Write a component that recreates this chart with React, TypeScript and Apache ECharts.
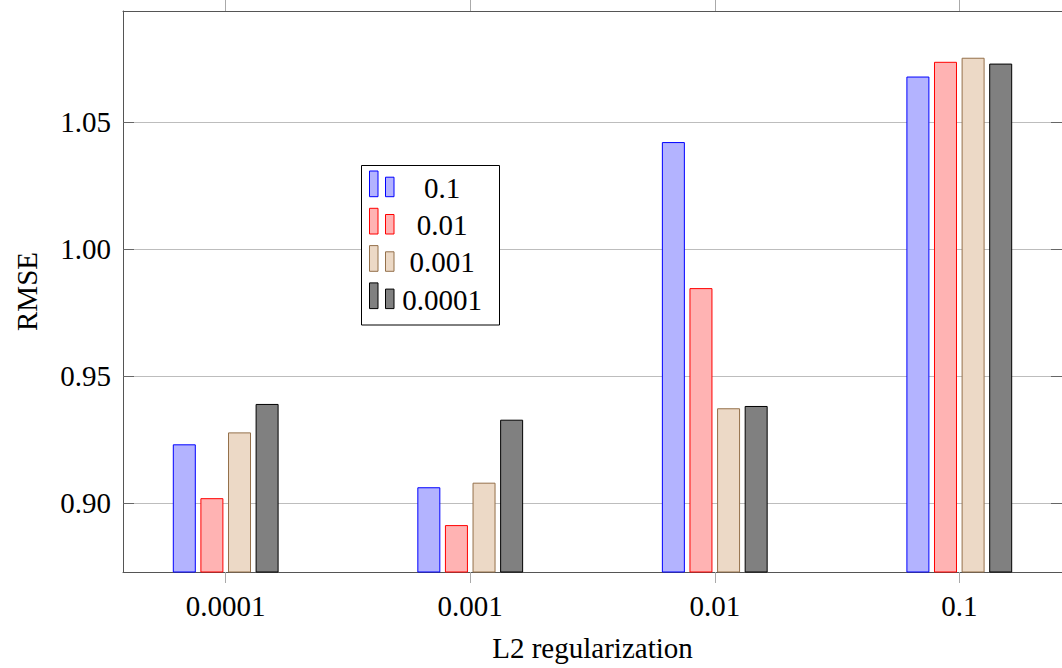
import React, { useEffect, useRef } from "react";
import * as echarts from "echarts";

const categories = ["0.0001", "0.001", "0.01", "0.1"];
const seriesNames = ["0.1", "0.01", "0.001", "0.0001"];
const s01 = [0.9231, 0.9062, 1.0421, 1.0679];
const s001 = [0.9019, 0.8913, 0.9846, 1.0737];
const s0001 = [0.9278, 0.908, 0.9373, 1.0753];
const s00001 = [0.939, 0.9328, 0.9382, 1.073];
const yTicks = [0.9, 0.95, 1.0, 1.05];

const fills = ["#b3b3ff", "#ffb3b3", "#ecd9c6", "#808080"];
const strokes = ["#0000ff", "#ff0000", "#94704a", "#000000"];

const FONT = "'Liberation Serif', 'DejaVu Serif', serif";

export default function App() {
  const ref = useRef<HTMLDivElement>(null);
  useEffect(() => {
    if (!ref.current) return;
    const chart = echarts.init(ref.current, null, { renderer: "svg" });
    const allSeries = [s01, s001, s0001, s00001];
    const xIdx = categories.map((_, i) => i);

    const legendEls: any[] = [
      {
        type: "rect",
        shape: { x: 361.5, y: 165.5, width: 138, height: 159.5 },
        style: { fill: "#fff", stroke: "#000", lineWidth: 1 },
        z: 100,
      },
    ];
    seriesNames.forEach((n, i) => {
      const top = 171 + i * 37.3;
      const bottom = top + 25.7;
      legendEls.push({
        type: "rect",
        shape: { x: 369.5, y: top, width: 8.5, height: bottom - top },
        style: { fill: fills[i], stroke: strokes[i], lineWidth: 1 },
        z: 101,
      });
      legendEls.push({
        type: "rect",
        shape: { x: 385.5, y: bottom - 19.5, width: 8.5, height: 19.5 },
        style: { fill: fills[i], stroke: strokes[i], lineWidth: 1 },
        z: 101,
      });
      legendEls.push({
        type: "text",
        x: 442,
        y: bottom - 9,
        style: {
          text: n,
          fontFamily: FONT,
          fontSize: 29,
          fill: "#000",
          align: "center",
          verticalAlign: "middle",
        },
        z: 101,
      });
    });

    const axisLine = { show: true, onZero: false, lineStyle: { color: "#555", width: 1 } };

    chart.setOption({
      animation: false,
      backgroundColor: "#fff",
      textStyle: { fontFamily: FONT },
      grid: { left: 123, top: 11, width: 943.5, height: 561 },
      xAxis: [
        {
          type: "value",
          position: "bottom",
          min: -0.42,
          max: 3.42,
          name: "L2 regularization",
          nameLocation: "middle",
          nameGap: 61,
          nameTextStyle: { fontFamily: FONT, fontSize: 29, color: "#000" },
          axisLine,
          axisTick: {
            show: true,
            inside: false,
            length: 11,
            customValues: xIdx,
            lineStyle: { color: "#aaa", width: 1 },
          },
          axisLabel: {
            customValues: xIdx,
            margin: 19,
            fontFamily: FONT,
            fontSize: 29,
            color: "#000",
            formatter: (v: number) => categories[Math.round(v)] ?? "",
          },
          splitLine: { show: false },
        },
        {
          type: "value",
          position: "top",
          min: -0.42,
          max: 3.42,
          axisLine,
          axisTick: {
            show: true,
            inside: false,
            length: 11,
            customValues: xIdx,
            lineStyle: { color: "#aaa", width: 1 },
          },
          axisLabel: { show: false },
          splitLine: { show: false },
        },
      ],
      yAxis: [
        {
          type: "value",
          position: "left",
          min: 0.872835,
          max: 1.0937,
          name: "RMSE",
          nameLocation: "middle",
          nameGap: 82,
          nameTextStyle: { fontFamily: FONT, fontSize: 29, color: "#000" },
          axisLine,
          axisTick: {
            show: true,
            inside: true,
            length: 11,
            customValues: yTicks,
            lineStyle: { color: "#666", width: 1 },
          },
          axisLabel: {
            customValues: yTicks,
            margin: 12,
            fontFamily: FONT,
            fontSize: 29,
            color: "#000",
            formatter: (v: number) => v.toFixed(2),
          },
          splitLine: { show: true, lineStyle: { color: "#bdbdbd", width: 1 } },
        },
        {
          type: "value",
          position: "right",
          min: 0.872835,
          max: 1.0937,
          axisLine,
          axisTick: {
            show: true,
            inside: true,
            length: 11,
            customValues: yTicks,
            lineStyle: { color: "#666", width: 1 },
          },
          axisLabel: { show: false },
          splitLine: { show: false },
        },
      ],
      series: allSeries.map((vals, i) => ({
        type: "bar",
        name: seriesNames[i],
        xAxisIndex: 0,
        yAxisIndex: 0,
        barWidth: 23,
        barGap: "20%",
        data: vals.map((v, j) => [j, v]),
        itemStyle: { color: fills[i], borderColor: strokes[i], borderWidth: 1 },
      })),
      graphic: legendEls,
    });
    return () => chart.dispose();
  }, []);
  return (
    <div
      ref={ref}
      style={{ position: "absolute", left: 0, top: 0, width: 1062, height: 668 }}
    />
  );
}
